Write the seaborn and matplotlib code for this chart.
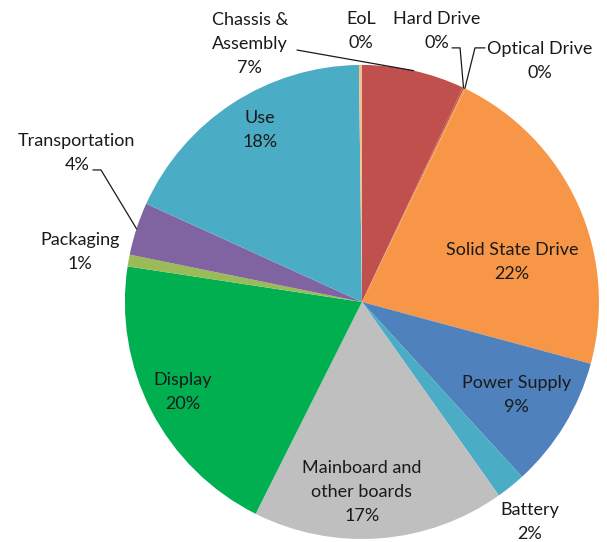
import matplotlib
matplotlib.use("Agg")
import matplotlib.pyplot as plt
import seaborn as sns
import numpy as np

sns.set_theme(style="white")
plt.rcParams['font.family'] = ['Lato', 'DejaVu Sans']

categories = ["Chassis &\nAssembly", "Hard Drive", "Optical Drive", "Solid State Drive",
              "Power Supply", "Battery", "Mainboard and\nother boards", "Display",
              "Packaging", "Transportation", "Use", "EoL"]
values = [7.0, 0.1, 0.1, 22.0, 9.0, 2.0, 17.2, 20.0, 0.8, 3.6, 18.0, 0.2]
pct_labels = ["7%", "0%", "0%", "22%", "9%", "2%", "17%", "20%", "1%", "4%", "18%", "0%"]
colors = sns.color_palette(["#C0504D", "#C0504D", "#F79646", "#F79646", "#4F81BD", "#4BACC6",
                            "#BFBFBF", "#00B050", "#9BBB59", "#8064A2", "#4BACC6", "#F2C08F"])

# label centres (data coords, pie radius = 1)
label_pos = [(-0.473, 1.089), (0.316, 1.143), (0.751, 1.017), (0.633, 0.169),
             (0.654, -0.392), (0.709, -0.928), (0.0, -0.802), (-0.755, -0.380),
             (-1.190, 0.211), (-1.203, 0.629), (-0.430, 0.726), (-0.004, 1.143)]

fig = plt.figure(figsize=(6.07, 5.42), dpi=100)
ax = fig.add_axes([0, 0, 1, 1])
wedges, _ = ax.pie(values, colors=colors, startangle=90, counterclock=False,
                   radius=1.0, wedgeprops=dict(linewidth=0))
ax.set_xlim(-1.527, 1.034)
ax.set_ylim(-1.0127, 1.274)
ax.set_aspect('equal', adjustable='box')
ax.axis('off')

for cat, pct, (x, y) in zip(categories, pct_labels, label_pos):
    ax.text(x, y, f"{cat}\n{pct}", ha='center', va='center', fontsize=13,
            color='#1a1a1a', linespacing=1.6)

def edge_point(w):
    a = np.deg2rad((w.theta1 + w.theta2) / 2)
    return np.cos(a), np.sin(a)

lc = dict(color='#1a1a1a', lw=0.9)
# Chassis leader
ex, ey = edge_point(wedges[0])
ax.plot([-0.274, ex], [1.063, ey], **lc)
# Hard drive leader
ex, ey = edge_point(wedges[1])
ax.plot([0.380, 0.414, ex], [1.072, 1.072, ey], **lc)
# Optical drive leader
ex, ey = edge_point(wedges[2])
ax.plot([0.519, 0.477, ex], [1.072, 1.072, ey], **lc)
# Transportation leader
ex, ey = edge_point(wedges[9])
ax.plot([-1.135, -1.101, ex], [0.557, 0.557, ey], **lc)

fig.savefig("out.png", dpi=100, facecolor='white')
